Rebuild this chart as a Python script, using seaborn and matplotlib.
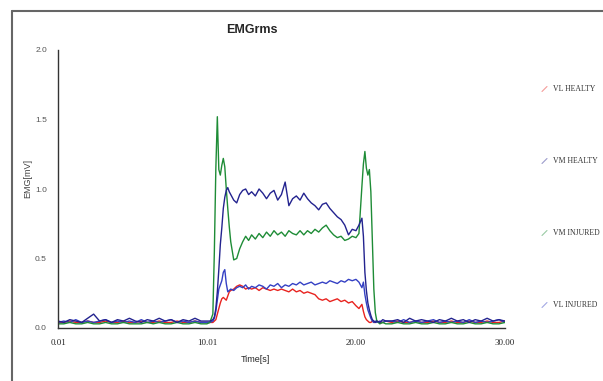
import pandas as pd
import matplotlib
matplotlib.use("Agg")
import matplotlib.pyplot as plt
import seaborn as sns
from matplotlib.lines import Line2D

sns.set_style("white")
plt.rcParams['font.family'] = ['Liberation Sans', 'DejaVu Sans']

# time axis [s]
time_s = [0.01, 0.4, 0.8, 1.2, 1.6, 2.0, 2.4, 2.8, 3.2, 3.6, 4.0, 4.4, 4.8, 5.2, 5.6,
          6.0, 6.4, 6.8, 7.2, 7.6, 8.0, 8.4, 8.8, 9.2, 9.6, 10.0,
          10.2, 10.4, 10.5, 10.6, 10.7, 10.8, 10.9, 11.0, 11.1, 11.2, 11.3, 11.4, 11.5,
          11.6, 11.8, 12.0, 12.2, 12.4, 12.6, 12.8, 13.0,
          13.25, 13.5, 13.75, 14.0, 14.25, 14.5, 14.75, 15.0, 15.25, 15.5, 15.75, 16.0,
          16.25, 16.5, 16.75, 17.0, 17.25, 17.5, 17.75, 18.0, 18.25, 18.5, 18.75, 19.0,
          19.25, 19.5, 19.75,
          20.0, 20.2, 20.4, 20.5, 20.6, 20.7, 20.8, 20.9, 21.0, 21.1, 21.2, 21.3, 21.4,
          21.6, 21.8, 22.0,
          22.4, 22.8, 23.2, 23.6, 24.0, 24.4, 24.8, 25.2, 25.6, 26.0, 26.4, 26.8, 27.2,
          27.6, 28.0, 28.4, 28.8, 29.2, 29.6, 30.0]

# EMG rms [mV]
vl_healty = [0.04, 0.04, 0.05, 0.04, 0.04, 0.05, 0.04, 0.04, 0.05, 0.04, 0.04, 0.05, 0.04,
             0.04, 0.05, 0.04, 0.04, 0.05, 0.04, 0.04, 0.05, 0.04, 0.04, 0.05, 0.04, 0.04,
             0.04, 0.04, 0.05, 0.06, 0.10, 0.14, 0.18, 0.21, 0.22, 0.21, 0.20, 0.23, 0.26,
             0.27, 0.28, 0.30, 0.31, 0.30, 0.28, 0.29, 0.28,
             0.29, 0.27, 0.29, 0.28, 0.27, 0.28, 0.27, 0.28, 0.27, 0.26, 0.28, 0.26, 0.27,
             0.25, 0.26, 0.25, 0.24, 0.21, 0.20, 0.21, 0.19, 0.20, 0.21, 0.19, 0.20, 0.18,
             0.19,
             0.16, 0.14, 0.17, 0.12, 0.08, 0.06, 0.05, 0.04, 0.04, 0.05, 0.04, 0.04, 0.05,
             0.04, 0.04, 0.05,
             0.04, 0.05, 0.04, 0.04, 0.05, 0.04, 0.04, 0.05, 0.04, 0.04, 0.05, 0.04, 0.04,
             0.05, 0.04, 0.04, 0.05, 0.04, 0.04, 0.05]

vm_healty = [0.05, 0.04, 0.06, 0.05, 0.04, 0.07, 0.10, 0.05, 0.06, 0.04, 0.06, 0.05, 0.07,
             0.05, 0.04, 0.06, 0.05, 0.07, 0.05, 0.06, 0.04, 0.06, 0.05, 0.07, 0.05, 0.05,
             0.05, 0.06, 0.08, 0.14, 0.26, 0.42, 0.60, 0.72, 0.86, 0.94, 0.99, 1.01, 0.98,
             0.96, 0.92, 0.90, 0.96, 0.99, 1.00, 0.96, 0.98,
             0.95, 1.00, 0.97, 0.93, 0.97, 0.99, 0.92, 0.96, 1.05, 0.88, 0.93, 0.95, 0.92,
             0.97, 0.93, 0.90, 0.88, 0.85, 0.89, 0.90, 0.86, 0.83, 0.80, 0.78, 0.74, 0.67,
             0.71,
             0.70, 0.74, 0.79, 0.66, 0.40, 0.27, 0.18, 0.13, 0.09, 0.06, 0.05, 0.04, 0.05,
             0.04, 0.06, 0.05,
             0.05, 0.06, 0.04, 0.07, 0.05, 0.06, 0.05, 0.04, 0.06, 0.05, 0.07, 0.05, 0.06,
             0.04, 0.06, 0.05, 0.07, 0.05, 0.06, 0.05]

vm_injured = [0.03, 0.03, 0.04, 0.03, 0.03, 0.04, 0.03, 0.03, 0.04, 0.03, 0.03, 0.04, 0.03,
              0.03, 0.03, 0.04, 0.03, 0.04, 0.03, 0.03, 0.04, 0.03, 0.03, 0.04, 0.03, 0.03,
              0.04, 0.10, 0.55, 1.15, 1.52, 1.14, 1.10, 1.17, 1.22, 1.16, 1.00, 0.86, 0.73,
              0.62, 0.49, 0.50, 0.57, 0.62, 0.66, 0.63, 0.67,
              0.64, 0.68, 0.65, 0.69, 0.66, 0.70, 0.67, 0.69, 0.66, 0.70, 0.68, 0.67, 0.70,
              0.67, 0.70, 0.68, 0.71, 0.69, 0.72, 0.74, 0.70, 0.67, 0.65, 0.66, 0.63, 0.64,
              0.66,
              0.65, 0.68, 1.02, 1.18, 1.27, 1.15, 1.10, 1.14, 0.98, 0.63, 0.28, 0.11, 0.05,
              0.03, 0.04, 0.03,
              0.03, 0.04, 0.03, 0.03, 0.04, 0.03, 0.03, 0.04, 0.03, 0.03, 0.04, 0.03, 0.03,
              0.04, 0.03, 0.03, 0.04, 0.03, 0.03, 0.04]

vl_injured = [0.04, 0.05, 0.04, 0.06, 0.04, 0.05, 0.04, 0.05, 0.06, 0.04, 0.05, 0.04, 0.05,
              0.04, 0.06, 0.04, 0.05, 0.04, 0.05, 0.06, 0.04, 0.05, 0.04, 0.05, 0.04, 0.04,
              0.04, 0.05, 0.07, 0.12, 0.20, 0.28, 0.31, 0.34, 0.40, 0.42, 0.32, 0.26, 0.27,
              0.28, 0.27, 0.29, 0.30, 0.29, 0.31, 0.28, 0.30,
              0.29, 0.31, 0.30, 0.28, 0.31, 0.30, 0.32, 0.29, 0.31, 0.30, 0.32, 0.31, 0.33,
              0.31, 0.32, 0.33, 0.31, 0.32, 0.33, 0.32, 0.34, 0.33, 0.32, 0.34, 0.33, 0.35,
              0.34,
              0.35, 0.33, 0.29, 0.33, 0.24, 0.18, 0.13, 0.10, 0.07, 0.05, 0.04, 0.05, 0.04,
              0.05, 0.04, 0.05,
              0.05, 0.04, 0.06, 0.04, 0.05, 0.04, 0.05, 0.06, 0.04, 0.05, 0.04, 0.05, 0.04,
              0.06, 0.04, 0.05, 0.04, 0.05, 0.06, 0.04]

labels = ["VL HEALTY", "VM HEALTY", "VM INJURED", "VL INJURED"]
colors = ["#e8231f", "#23238f", "#1e8c36", "#3440c4"]

df = pd.DataFrame({"time": time_s, "VL HEALTY": vl_healty, "VM HEALTY": vm_healty,
                   "VM INJURED": vm_injured, "VL INJURED": vl_injured})
long_df = df.melt(id_vars="time", var_name="muscle", value_name="emg")

fig = plt.figure(figsize=(6.03, 3.81), dpi=100)
ax = fig.add_axes([58 / 603, 1 - 328 / 381, 447 / 603, 278 / 381])

draw_order = ["VL HEALTY", "VL INJURED", "VM INJURED", "VM HEALTY"]
sns.lineplot(data=long_df, x="time", y="emg", hue="muscle", hue_order=draw_order,
             palette=dict(zip(labels, colors)), estimator=None, sort=False,
             linewidth=1.0, legend=False, ax=ax)

ax.set_xlim(0.01, 30.0)
ax.set_ylim(0, 2.0)
ax.set_xticks([0.01, 10.01, 20.0, 30.0])
ax.set_xticklabels(["0.01", "10.01", "20.00", "30.00"], family="Liberation Serif", fontsize=6.5)
ax.set_yticks([0.0, 0.5, 1.0, 1.5, 2.0])
ax.set_yticklabels(["0.0", "0.5", "1.0", "1.5", "2.0"], fontsize=6, color="#555555")
ax.tick_params(axis="both", direction="inout", length=8, width=0.8, color="#333333", pad=4)
ax.set_xlabel("")
ax.set_ylabel("")
for side in ["top", "right"]:
    ax.spines[side].set_visible(False)
for side in ["left", "bottom"]:
    ax.spines[side].set_color("#333333")
    ax.spines[side].set_linewidth(1.0)

fig.text(252 / 603, 1 - 30 / 381, "EMGrms", ha="center", va="center",
         fontsize=9, fontweight="bold")
fig.text(255 / 603, 1 - 359 / 381, "Time[s]", ha="center", va="center", fontsize=6.5)
fig.text(28 / 603, 1 - 178 / 381, "EMG[mV]", ha="center", va="center",
         rotation=90, fontsize=6.5, color="#444444")

# legend on the right
leg_y = [89, 161, 233, 305]
for lab, col, yy in zip(labels, colors, leg_y):
    fy = 1 - yy / 381
    fig.add_artist(Line2D([542 / 603, 547 / 603], [fy - 2.5 / 381, fy + 2.5 / 381],
                          color=col, alpha=0.45, lw=0.8))
    fig.text(553 / 603, fy, lab, ha="left", va="center", fontsize=5.6,
             family="Liberation Serif", color="#333333")

# outer frame
fig.add_artist(Line2D([12 / 603, 12 / 603], [0, 1 - 11 / 381], color="#666666", lw=1.5))
fig.add_artist(Line2D([12 / 603, 1], [1 - 11 / 381, 1 - 11 / 381], color="#666666", lw=1.5))

fig.savefig("out.png", dpi=100)
